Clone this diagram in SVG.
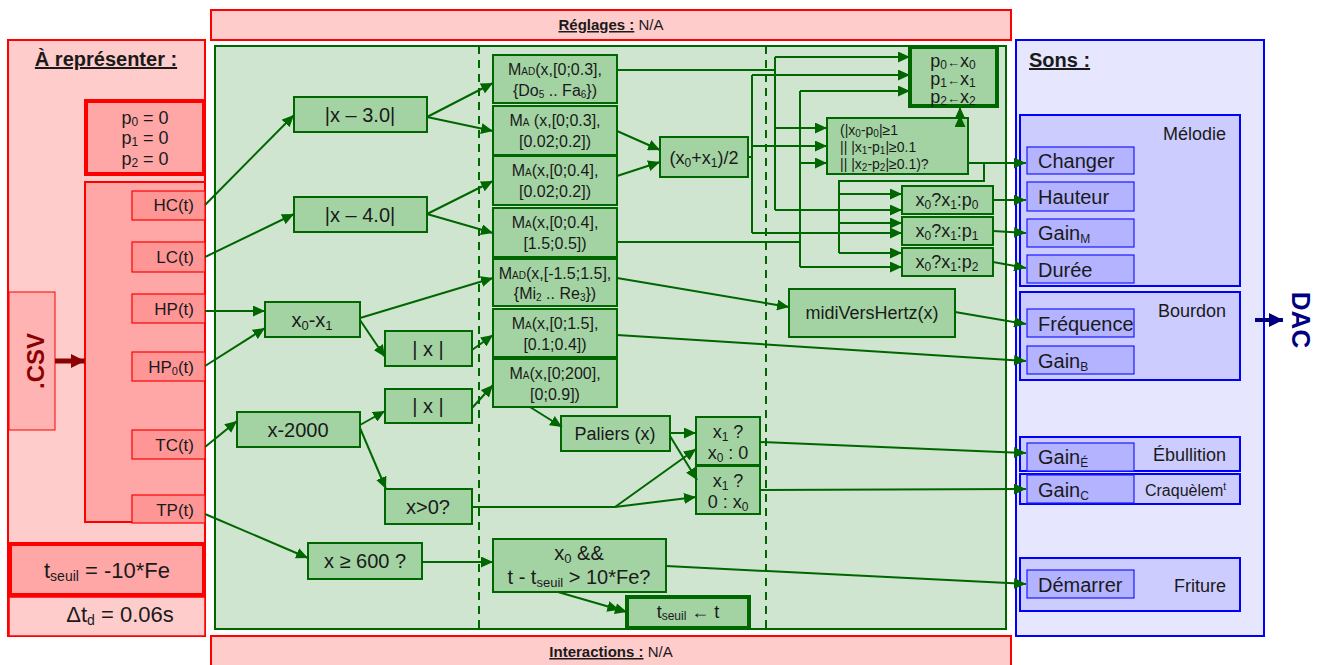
<svg xmlns="http://www.w3.org/2000/svg" width="1319" height="665" viewBox="0 0 1319 665">
<defs>
<marker id="a" markerWidth="12" markerHeight="11" refX="12" refY="5.5" orient="auto" markerUnits="userSpaceOnUse"><path d="M0,0 L12,5.5 L0,11 z" fill="#006600"/></marker>
<marker id="a2" markerWidth="20" markerHeight="11" refX="20" refY="5.5" orient="auto" markerUnits="userSpaceOnUse"><path d="M0,0 L12,5.5 L0,11 z M8,0 L20,5.5 L8,11 z" fill="#006600"/></marker>
<marker id="ar" markerWidth="14" markerHeight="14" refX="14" refY="7" orient="auto" markerUnits="userSpaceOnUse"><path d="M0,0 L14,7 L0,14 z" fill="#8b0000"/></marker>
<marker id="ab" markerWidth="14" markerHeight="14" refX="14" refY="7" orient="auto" markerUnits="userSpaceOnUse"><path d="M0,0 L14,7 L0,14 z" fill="#000080"/></marker>
</defs>
<style>
text{font-family:"Liberation Sans",Arial,sans-serif;fill:#1a1a1a}
.n{fill:#a3d3a3;stroke:#006600;stroke-width:2}
.nt{fill:#a3d3a3;stroke:#006600;stroke-width:4}
.c{fill:none;stroke:#006600;stroke-width:2}
.ca{fill:none;stroke:#006600;stroke-width:2;marker-end:url(#a)}
.sig{fill:#ff9696;stroke:#ff0000;stroke-width:1.2}
.bg{fill:#ccccff;stroke:#0000ff;stroke-width:2}
.bs{fill:#b3b3ff;stroke:#1a1aff;stroke-width:1.2}
.t16{font-size:16px;text-anchor:middle}
.t18{font-size:18px;text-anchor:middle}
.t20{font-size:20px;text-anchor:middle}
.s17{font-size:17px;text-anchor:end}
.bl{font-size:20px}
.hd{font-size:20px;font-weight:bold;text-decoration:underline}
</style>

<!-- Panels -->
<g id="panel-left">
<rect x="8" y="40" width="197" height="596" fill="#ffcccc" stroke="#ff0000" stroke-width="2"/>
<text x="106" y="66" class="hd" text-anchor="middle">À représenter :</text>
</g>
<g id="panel-reglages">
<rect x="211" y="10" width="800" height="30" fill="#ffcccc" stroke="#ff0000" stroke-width="2"/>
<text x="611" y="30" font-size="15" text-anchor="middle" style="font-family:'Liberation Sans Narrow','Liberation Sans',sans-serif"><tspan font-weight="bold" text-decoration="underline">Réglages :</tspan> N/A</text>
</g>
<g id="panel-interactions">
<rect x="211" y="636" width="800" height="34" fill="#ffcccc" stroke="#ff0000" stroke-width="2"/>
<text x="611" y="657" font-size="15" text-anchor="middle" style="font-family:'Liberation Sans Narrow','Liberation Sans',sans-serif"><tspan font-weight="bold" text-decoration="underline">Interactions :</tspan> N/A</text>
</g>
<g id="panel-process">
<rect x="215" y="46" width="791" height="583" fill="#cfe5cf" stroke="#006600" stroke-width="2"/>
<line x1="479" y1="46" x2="479" y2="629" stroke="#006600" stroke-width="2" stroke-dasharray="8,6"/>
<line x1="766" y1="46" x2="766" y2="629" stroke="#006600" stroke-width="2" stroke-dasharray="8,6"/>
</g>
<g id="panel-sons">
<rect x="1016" y="40" width="248" height="596" fill="#e6e6ff" stroke="#0000ff" stroke-width="2"/>
<text x="1029" y="67" class="hd">Sons :</text>
</g>

<!-- Left nodes -->
<g id="n-p-init">
<rect x="86" y="101" width="118" height="73" fill="#ffa6a6" stroke="#ff0000" stroke-width="4"/>
<text x="145" y="124" font-size="18" text-anchor="middle">p<tspan font-size="12" dy="2">0</tspan><tspan dy="-2"> = 0</tspan></text>
<text x="145" y="144" font-size="18" text-anchor="middle">p<tspan font-size="12" dy="2">1</tspan><tspan dy="-2"> = 0</tspan></text>
<text x="145" y="165" font-size="18" text-anchor="middle">p<tspan font-size="12" dy="2">2</tspan><tspan dy="-2"> = 0</tspan></text>
</g>
<g id="n-signals">
<rect x="85" y="182" width="120" height="340" fill="#ffa6a6" stroke="#ff0000" stroke-width="2"/>
</g>
<g id="n-hc"><rect x="132" y="191" width="73" height="29" class="sig"/><text x="194" y="211" class="s17">HC(t)</text></g>
<g id="n-lc"><rect x="132" y="242" width="73" height="30" class="sig"/><text x="194" y="263" class="s17">LC(t)</text></g>
<g id="n-hp"><rect x="132" y="294" width="73" height="29" class="sig"/><text x="194" y="315" class="s17">HP(t)</text></g>
<g id="n-hp0"><rect x="132" y="352" width="73" height="29" class="sig"/><text x="194" y="373" class="s17">HP<tspan font-size="11" dy="2">0</tspan><tspan dy="-2">(t)</tspan></text></g>
<g id="n-tc"><rect x="132" y="430" width="73" height="29" class="sig"/><text x="194" y="451" class="s17">TC(t)</text></g>
<g id="n-tp"><rect x="132" y="495" width="73" height="28" class="sig"/><text x="194" y="516" class="s17">TP(t)</text></g>
<g id="n-csv">
<rect x="9" y="292" width="46" height="138" fill="#ffb3b3" stroke="#ff0000" stroke-width="1"/>
<text transform="translate(44,361) rotate(-90)" font-size="24" font-weight="bold" text-anchor="middle" style="fill:#8b0000">.CSV</text>
</g>
<g id="n-tseuil">
<rect x="10" y="544" width="194" height="51" fill="#ffa6a6" stroke="#ff0000" stroke-width="4"/>
<text x="107" y="578" font-size="22" text-anchor="middle">t<tspan font-size="14" dy="3">seuil</tspan><tspan dy="-3"> = -10*Fe</tspan></text>
</g>
<g id="n-dtd">
<rect x="9" y="597" width="196" height="39" fill="#ffcccc" stroke="#ff0000" stroke-width="1.5"/>
<text x="120" y="622" font-size="22" text-anchor="middle">Δt<tspan font-size="14" dy="3">d</tspan><tspan dy="-3"> = 0.06s</tspan></text>
</g>

<!-- Green nodes column 1 -->
<g id="n-abs3"><rect x="294" y="97" width="133" height="35" class="n"/><text x="360" y="122" class="t20">|x – 3.0|</text></g>
<g id="n-abs4"><rect x="294" y="197" width="133" height="35" class="n"/><text x="360" y="222" class="t20">|x – 4.0|</text></g>
<g id="n-diff"><rect x="265" y="302" width="95" height="35" class="n"/><text x="312" y="327" class="t20">x<tspan font-size="13" dy="3">0</tspan><tspan dy="-3">-x</tspan><tspan font-size="13" dy="3">1</tspan></text></g>
<g id="n-absA"><rect x="385" y="331" width="87" height="35" class="n"/><text x="428" y="356" class="t20">| x |</text></g>
<g id="n-absB"><rect x="385" y="389" width="87" height="34" class="n"/><text x="428" y="413" class="t20">| x |</text></g>
<g id="n-x2000"><rect x="237" y="412" width="123" height="35" class="n"/><text x="298" y="437" class="t20">x-2000</text></g>
<g id="n-xgt0"><rect x="385" y="489" width="87" height="35" class="n"/><text x="428" y="514" class="t20">x&gt;0?</text></g>
<g id="n-x600"><rect x="308" y="543" width="114" height="36" class="n"/><text x="365" y="568" class="t20">x ≥ 600 ?</text></g>

<!-- Green nodes column 2 -->
<g id="n-mad1"><rect x="493" y="55" width="124" height="48" class="n"/>
<text x="555" y="75" class="t16">M<tspan font-size="10">AD</tspan>(x,[0;0.3],</text>
<text x="555" y="96" class="t16">{Do<tspan font-size="10" dy="2">5</tspan><tspan dy="-2"> .. Fa</tspan><tspan font-size="10" dy="2">6</tspan><tspan dy="-2">})</tspan></text></g>
<g id="n-ma2"><rect x="493" y="106" width="124" height="49" class="n"/>
<text x="555" y="126" class="t16">M<tspan font-size="10">A</tspan> (x,[0;0.3],</text>
<text x="555" y="147" class="t16">[0.02;0.2])</text></g>
<g id="n-ma3"><rect x="493" y="156" width="124" height="49" class="n"/>
<text x="555" y="176" class="t16">M<tspan font-size="10">A</tspan>(x,[0;0.4],</text>
<text x="555" y="197" class="t16">[0.02;0.2])</text></g>
<g id="n-ma4"><rect x="493" y="208" width="124" height="49" class="n"/>
<text x="555" y="228" class="t16">M<tspan font-size="10">A</tspan>(x,[0;0.4],</text>
<text x="555" y="249" class="t16">[1.5;0.5])</text></g>
<g id="n-mad2"><rect x="493" y="259" width="124" height="47" class="n"/>
<text x="555" y="279" class="t16">M<tspan font-size="10">AD</tspan>(x,[-1.5;1.5],</text>
<text x="555" y="299" class="t16">{Mi<tspan font-size="10" dy="2">2</tspan><tspan dy="-2"> .. Re</tspan><tspan font-size="10" dy="2">3</tspan><tspan dy="-2">})</tspan></text></g>
<g id="n-ma5"><rect x="493" y="309" width="124" height="48" class="n"/>
<text x="555" y="329" class="t16">M<tspan font-size="10">A</tspan>(x,[0;1.5],</text>
<text x="555" y="350" class="t16">[0.1;0.4])</text></g>
<g id="n-ma6"><rect x="493" y="359" width="124" height="48" class="n"/>
<text x="555" y="379" class="t16">M<tspan font-size="10">A</tspan>(x,[0;200],</text>
<text x="555" y="400" class="t16">[0;0.9])</text></g>
<g id="n-avg"><rect x="660" y="137" width="88" height="40" class="n"/><text x="704" y="164" class="t18">(x<tspan font-size="12" dy="3">0</tspan><tspan dy="-3">+x</tspan><tspan font-size="12" dy="3">1</tspan><tspan dy="-3">)/2</tspan></text></g>
<g id="n-paliers"><rect x="561" y="416" width="109" height="35" class="n"/><text x="615" y="440" class="t18">Paliers (x)</text></g>
<g id="n-sel1"><rect x="696" y="417" width="64" height="48" class="n"/>
<text x="728" y="438" class="t18">x<tspan font-size="12" dy="3">1</tspan><tspan dy="-3"> ?</tspan></text>
<text x="728" y="459" class="t18">x<tspan font-size="12" dy="3">0</tspan><tspan dy="-3"> : 0</tspan></text></g>
<g id="n-sel2"><rect x="696" y="466" width="64" height="48" class="n"/>
<text x="728" y="487" class="t18">x<tspan font-size="12" dy="3">1</tspan><tspan dy="-3"> ?</tspan></text>
<text x="728" y="508" class="t18">0 : x<tspan font-size="12" dy="3">0</tspan></text></g>
<g id="n-cond2"><rect x="493" y="539" width="173" height="53" class="n"/>
<text x="579" y="560" class="t20">x<tspan font-size="13" dy="3">0</tspan><tspan dy="-3"> &amp;&amp;</tspan></text>
<text x="579" y="584" class="t20">t - t<tspan font-size="13" dy="3">seuil</tspan><tspan dy="-3"> &gt; 10*Fe?</tspan></text></g>
<g id="n-setseuil"><rect x="627" y="597" width="122" height="31" class="nt"/>
<text x="688" y="618" class="t18">t<tspan font-size="12" dy="2">seuil</tspan><tspan dy="-2">  ←  t</tspan></text></g>

<!-- Green nodes column 3 -->
<g id="n-midi"><rect x="789" y="289" width="166" height="48" class="n"/><text x="872" y="319" class="t18">midiVersHertz(x)</text></g>
<g id="n-pset"><rect x="910" y="47" width="87" height="59" class="nt"/>
<text x="953" y="67" class="t18">p<tspan font-size="12" dy="2">0</tspan><tspan dy="-2" font-size="13">←</tspan>x<tspan font-size="12" dy="2">0</tspan></text>
<text x="953" y="85" class="t18">p<tspan font-size="12" dy="2">1</tspan><tspan dy="-2" font-size="13">←</tspan>x<tspan font-size="12" dy="2">1</tspan></text>
<text x="953" y="103" class="t18">p<tspan font-size="12" dy="2">2</tspan><tspan dy="-2" font-size="13">←</tspan>x<tspan font-size="12" dy="2">2</tspan></text></g>
<g id="n-cond"><rect x="827" y="118" width="141" height="56" class="n"/>
<text x="840" y="135" font-size="14">(|x<tspan font-size="10" dy="2">0</tspan><tspan dy="-2">-p</tspan><tspan font-size="10" dy="2">0</tspan><tspan dy="-2">|≥1</tspan></text>
<text x="840" y="152" font-size="14">|| |x<tspan font-size="10" dy="2">1</tspan><tspan dy="-2">-p</tspan><tspan font-size="10" dy="2">1</tspan><tspan dy="-2">|≥0.1</tspan></text>
<text x="840" y="169" font-size="14">|| |x<tspan font-size="10" dy="2">2</tspan><tspan dy="-2">-p</tspan><tspan font-size="10" dy="2">2</tspan><tspan dy="-2">|≥0.1)?</tspan></text></g>
<g id="n-q0"><rect x="902" y="186" width="91" height="28" class="n"/><text x="947" y="206" class="t18">x<tspan font-size="12" dy="3">0</tspan><tspan dy="-3">?x</tspan><tspan font-size="12" dy="3">1</tspan><tspan dy="-3">:p</tspan><tspan font-size="12" dy="3">0</tspan></text></g>
<g id="n-q1"><rect x="902" y="217" width="91" height="28" class="n"/><text x="947" y="237" class="t18">x<tspan font-size="12" dy="3">0</tspan><tspan dy="-3">?x</tspan><tspan font-size="12" dy="3">1</tspan><tspan dy="-3">:p</tspan><tspan font-size="12" dy="3">1</tspan></text></g>
<g id="n-q2"><rect x="902" y="248" width="91" height="28" class="n"/><text x="947" y="268" class="t18">x<tspan font-size="12" dy="3">0</tspan><tspan dy="-3">?x</tspan><tspan font-size="12" dy="3">1</tspan><tspan dy="-3">:p</tspan><tspan font-size="12" dy="3">2</tspan></text></g>

<!-- Sons -->
<g id="s-melodie"><rect x="1020" y="115" width="220" height="171" class="bg"/><text x="1226" y="140" font-size="18" text-anchor="end">Mélodie</text></g>
<g id="s-changer"><rect x="1027" y="147" width="107" height="27" class="bs"/><text x="1038" y="168" class="bl">Changer</text></g>
<g id="s-hauteur"><rect x="1027" y="182" width="107" height="29" class="bs"/><text x="1038" y="204" class="bl">Hauteur</text></g>
<g id="s-gainm"><rect x="1027" y="219" width="107" height="28" class="bs"/><text x="1038" y="240" class="bl">Gain<tspan font-size="12" dy="3">M</tspan></text></g>
<g id="s-duree"><rect x="1027" y="255" width="107" height="28" class="bs"/><text x="1038" y="277" class="bl">Durée</text></g>
<g id="s-bourdon"><rect x="1020" y="292" width="220" height="88" class="bg"/><text x="1226" y="317" font-size="18" text-anchor="end">Bourdon</text></g>
<g id="s-freq"><rect x="1027" y="309" width="107" height="28" class="bs"/><text x="1038" y="331" class="bl">Fréquence</text></g>
<g id="s-gainb"><rect x="1027" y="346" width="107" height="28" class="bs"/><text x="1038" y="368" class="bl">Gain<tspan font-size="12" dy="3">B</tspan></text></g>
<g id="s-ebullition"><rect x="1020" y="437" width="220" height="34" class="bg"/><text x="1226" y="461" font-size="18" text-anchor="end">Ébullition</text></g>
<g id="s-craq"><rect x="1020" y="474" width="220" height="30" class="bg"/><text x="1226" y="496" font-size="16" text-anchor="end">Craquèlem<tspan font-size="10" dy="-6">t</tspan></text></g>
<g id="s-gaine"><rect x="1027" y="443" width="107" height="28" class="bs"/><text x="1038" y="464" class="bl">Gain<tspan font-size="12" dy="3">É</tspan></text></g>
<g id="s-gainc"><rect x="1027" y="475" width="107" height="28" class="bs"/><text x="1038" y="497" class="bl">Gain<tspan font-size="12" dy="3">C</tspan></text></g>
<g id="s-friture"><rect x="1020" y="558" width="220" height="53" class="bg"/><text x="1226" y="592" font-size="18" text-anchor="end">Friture</text></g>
<g id="s-demarrer"><rect x="1027" y="570" width="107" height="28" class="bs"/><text x="1038" y="592" class="bl">Démarrer</text></g>
<g id="n-dac"><text transform="translate(1292,320) rotate(90)" font-size="26" font-weight="bold" text-anchor="middle" style="fill:#000080">DAC</text></g>

<!-- Connectors -->
<g id="connectors">
<path class="ca" d="M205,205 L294,115"/>
<path class="ca" d="M205,257 L294,214"/>
<path class="ca" d="M205,311 L265,311"/>
<path class="ca" d="M205,366 L265,328"/>
<path class="ca" d="M205,447 L237,421"/>
<path class="ca" d="M205,514 L308,558"/>
<path class="ca" d="M427,117 L493,83"/>
<path class="ca" d="M427,117 L493,131"/>
<path class="ca" d="M427,214 L493,181"/>
<path class="ca" d="M427,214 L493,233"/>
<path class="ca" d="M360,318 L493,278"/>
<path class="ca" d="M360,320 L385,357"/>
<path class="ca" d="M472,350 L493,335"/>
<path class="ca" d="M360,425 L385,411"/>
<path class="ca" d="M472,408 L493,385"/>
<path class="ca" d="M360,428 L386,489"/>
<path class="ca" d="M422,562 L493,562"/>
<path class="ca" d="M530,407 L562,427"/>
<path class="ca" d="M670,433 L696,433"/>
<path class="ca" d="M670,436 L697,480"/>
<path class="ca" d="M472,507 L615,507 L696,497"/>
<path class="ca" d="M615,507 L696,449"/>
<path class="c" style="marker-end:url(#a2)" d="M558,592 L627,612"/>
<path class="ca" d="M666,566 L1026,584"/>
<path class="ca" d="M617,131 L660,150"/>
<path class="ca" d="M617,176 L660,162"/>
<path class="ca" d="M617,278 L789,307"/>
<path class="ca" d="M617,335 L1026,361"/>
<path class="ca" d="M955,312 L1026,324"/>
<path class="ca" d="M760,442 L1026,453"/>
<path class="ca" d="M760,490 L1026,489"/>
<!-- MAD1 bus -->
<path class="c" d="M617,70 L775,70 M775,57 L775,210"/>
<path class="ca" d="M775,57 L910,57"/>
<path class="ca" d="M775,128 L827,128"/>
<path class="ca" d="M775,210 L902,210"/>
<!-- avg bus -->
<path class="c" d="M748,157 L752,157 M752,75 L752,233"/>
<path class="ca" d="M752,75 L910,75"/>
<path class="ca" d="M752,146 L827,146"/>
<path class="ca" d="M752,233 L902,233"/>
<!-- MA4 bus -->
<path class="c" d="M617,242 L800,242 M800,91 L800,267"/>
<path class="ca" d="M800,91 L910,91"/>
<path class="ca" d="M800,163 L827,163"/>
<path class="ca" d="M800,267 L902,267"/>
<!-- condition outputs -->
<path class="ca" d="M968,163 L1026,163"/>
<path class="c" d="M984,163 L984,181 L839,181 L839,253"/>
<path class="ca" d="M839,194 L902,194"/>
<path class="ca" d="M839,223 L902,223"/>
<path class="ca" d="M839,253 L902,253"/>
<path class="c" style="marker-end:url(#a2)" d="M960,124 L960,107"/>
<path class="ca" d="M993,200 L1026,200"/>
<path class="ca" d="M993,231 L1026,233"/>
<path class="ca" d="M993,262 L1026,268"/>
<path d="M55,361 L85,361" stroke="#8b0000" stroke-width="5" fill="none" marker-end="url(#ar)"/>
<path d="M1255,320 L1283,320" stroke="#000080" stroke-width="4" fill="none" marker-end="url(#ab)"/>
</g>
</svg>
